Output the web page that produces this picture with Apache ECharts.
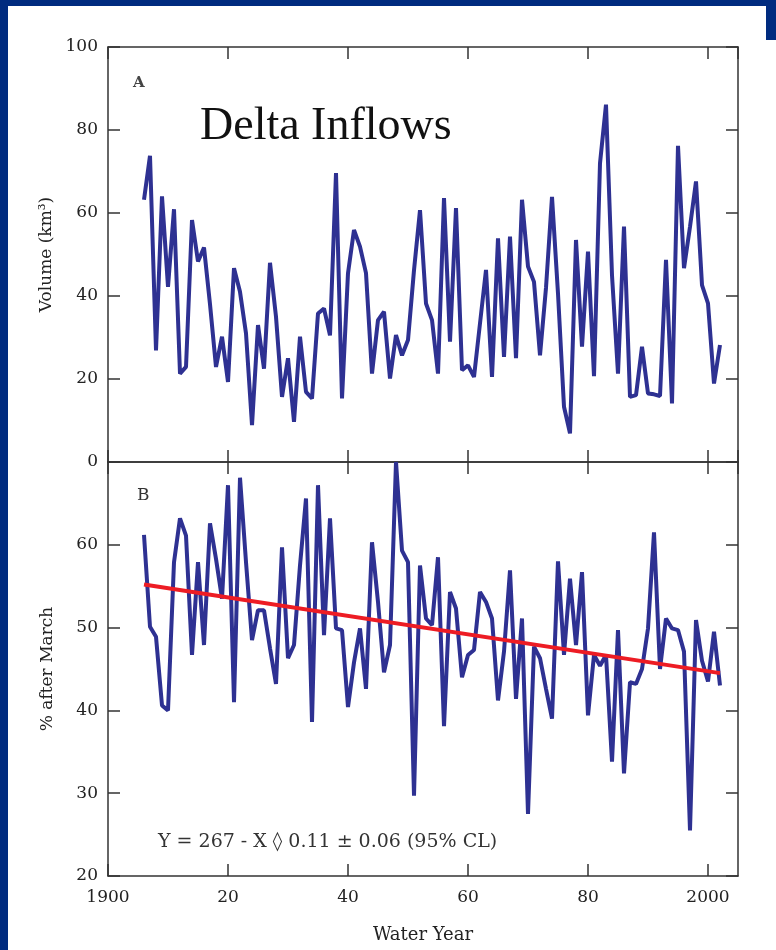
<!DOCTYPE html>
<html>
<head>
<meta charset="utf-8">
<style>
  html, body { margin: 0; padding: 0; background: #fff; }
  #chart { width: 776px; height: 950px; }
</style>
<script src="https://cdn.jsdelivr.net/npm/echarts@6/dist/echarts.min.js"></script>
</head>
<body>
<div id="chart"></div>
<script>
// water years 1906 .. 2002
var firstYear = 1906;

// panel A: delta inflow volume, km3
var inflow = [
  63.2, 73.8, 26.9, 64, 42.2, 60.9, 21.3, 22.9, 58.3, 48.3,
  51.7, 38, 22.9, 30.2, 19.3, 46.7, 41, 31, 8.9, 33,
  22.5, 48, 35, 15.7, 25, 9.7, 30.2, 16.9, 15.3, 35.8,
  37, 30.5, 69.6, 15.3, 45.5, 55.9, 51.9, 45.5, 21.3, 34.2,
  36.2, 20.1, 30.6, 25.7, 29.4, 46.2, 60.7, 38.2, 34.2, 21.3,
  63.6, 29, 61.2, 22.1, 23.3, 20.5, 33.4, 46.3, 20.5, 53.9,
  25.3, 54.3, 25, 63.2, 47.1, 43.4, 25.7, 42, 63.9, 40.6,
  13.3, 6.9, 53.5, 27.8, 50.7, 20.7, 72, 86.1, 45, 21.3,
  56.7, 15.7, 16.1, 27.8, 16.5, 16.3, 15.9, 48.7, 14.1, 76.2,
  46.7, 56.7, 67.6, 42.6, 38.2, 18.9, 28.2
];

// panel B: percent of inflow after March
var pctAfterMarch = [
  61.2, 50.1, 48.9, 40.6, 40, 57.9, 63.2, 61.1, 46.7, 57.9,
  47.9, 62.6, 58.3, 53.5, 67.2, 41, 68.1, 57.9, 48.5, 52.1,
  52.1, 47.5, 43.2, 59.7, 46.3, 47.9, 57.5, 65.6, 38.6, 67.2,
  49.1, 63.2, 49.9, 49.7, 40.4, 45.8, 49.9, 42.6, 60.3, 53.1,
  44.6, 47.9, 70, 59.3, 57.9, 29.7, 57.5, 51.1, 50.3, 58.5,
  38.1, 54.3, 52.3, 44, 46.7, 47.3, 54.3, 53.1, 51.1, 41.2,
  47.1, 56.9, 41.4, 51.1, 27.5, 47.7, 46.3, 42.6, 39, 58,
  46.7, 55.9, 47.9, 56.7, 39.4, 46.7, 45.4, 46.7, 33.8, 49.7,
  32.4, 43.4, 43.2, 45, 49.9, 61.5, 45, 51.1, 49.9, 49.7,
  47.1, 25.5, 50.9, 46, 43.5, 49.5, 43
];

// fitted trend (red line) end points
var trendYears = [1906, 2002];
var trendValues = [55.2, 44.5];

var volumeTicks = [0, 100, 20];
var pctTicks = [20, 70, 10];
var yearTicks = [1900, 2005, 20];

function pairs(xs, ys) {
  var out = [];
  for (var i = 0; i < ys.length; i++) out.push([xs[i], ys[i]]);
  return out;
}
var years = [];
for (var i = 0; i < inflow.length; i++) years.push(firstYear + i);

var FONT = 'DejaVu Serif';
var AXIS = '#333';

function xAxis(grid, pos, labels) {
  return {
    type: 'value', gridIndex: grid, position: pos,
    min: yearTicks[0], max: yearTicks[1], interval: yearTicks[2],
    axisLine: { show: true, onZero: false, lineStyle: { color: AXIS, width: 1.5 } },
    axisTick: { show: true, inside: true, length: 12, lineStyle: { color: AXIS, width: 1.5 } },
    splitLine: { show: false },
    axisLabel: {
      show: labels, margin: 13, color: '#222', fontFamily: FONT, fontSize: 17,
      showMaxLabel: false,
      formatter: function (v) { return (v % 100 === 0) ? String(v) : String(v).slice(2); }
    },
    name: labels ? 'Water Year' : '',
    nameLocation: 'middle', nameGap: 50,
    nameTextStyle: { color: '#222', fontFamily: FONT, fontSize: 18 }
  };
}

function yAxis(grid, pos, ticks, labels, name, hideMax) {
  return {
    type: 'value', gridIndex: grid, position: pos,
    min: ticks[0], max: ticks[1], interval: ticks[2],
    axisLine: { show: true, onZero: false, lineStyle: { color: AXIS, width: 1.5 } },
    axisTick: { show: true, inside: true, length: 12, lineStyle: { color: AXIS, width: 1.5 } },
    splitLine: { show: false },
    axisLabel: { show: labels, margin: 10, color: '#222', fontFamily: FONT, fontSize: 17, showMaxLabel: !hideMax },
    name: name, nameLocation: 'middle', nameRotate: 90, nameGap: 52,
    nameTextStyle: { color: '#222', fontFamily: FONT, fontSize: 17 }
  };
}

var chart = echarts.init(document.getElementById('chart'), null, { renderer: 'canvas' });
chart.setOption({
  backgroundColor: '#ffffff',
  animation: false,
  grid: [
    { left: 108, right: 38, top: 47, height: 415 },
    { left: 108, right: 38, top: 462, height: 414 }
  ],
  xAxis: [
    xAxis(0, 'bottom', false),
    xAxis(0, 'top', false),
    xAxis(1, 'bottom', true),
    xAxis(1, 'top', false)
  ],
  yAxis: [
    yAxis(0, 'left', volumeTicks, true, 'Volume (km\u00b3)', false),
    yAxis(0, 'right', volumeTicks, false, '', false),
    yAxis(1, 'left', pctTicks, true, '% after March', true),
    yAxis(1, 'right', pctTicks, false, '', false)
  ],
  series: [
    {
      type: 'line', xAxisIndex: 0, yAxisIndex: 0,
      data: pairs(years, inflow), showSymbol: false,
      lineStyle: { color: '#2e3192', width: 4 }
    },
    {
      type: 'line', xAxisIndex: 2, yAxisIndex: 2,
      data: pairs(years, pctAfterMarch), showSymbol: false,
      lineStyle: { color: '#2e3192', width: 4 }
    },
    {
      type: 'line', xAxisIndex: 2, yAxisIndex: 2,
      data: pairs(trendYears, trendValues), showSymbol: false,
      lineStyle: { color: '#ed1c24', width: 4 }, z: 3
    }
  ],
  graphic: [
    { type: 'rect', shape: { x: 0, y: 0, width: 8, height: 950 }, style: { fill: '#002b7f' } },
    { type: 'rect', shape: { x: 0, y: 0, width: 776, height: 6 }, style: { fill: '#002b7f' } },
    { type: 'rect', shape: { x: 766, y: 0, width: 10, height: 40 }, style: { fill: '#002b7f' } },
    { type: 'text', left: 133, top: 76, style: { text: 'A', font: 'bold 15px "DejaVu Serif"', fill: '#444' } },
    { type: 'text', left: 137, top: 487, style: { text: 'B', font: '17px "DejaVu Serif"', fill: '#333' } },
    { type: 'text', left: 200, top: 104, style: { text: 'Delta Inflows', font: '46px "Liberation Serif"', fill: '#111' } },
    { type: 'text', left: 158, top: 833, style: { text: 'Y = 267 - X \u25ca 0.11 \u00b1 0.06 (95% CL)', font: '19px "DejaVu Serif"', fill: '#333' } }
  ]
});
</script>
</body>
</html>
